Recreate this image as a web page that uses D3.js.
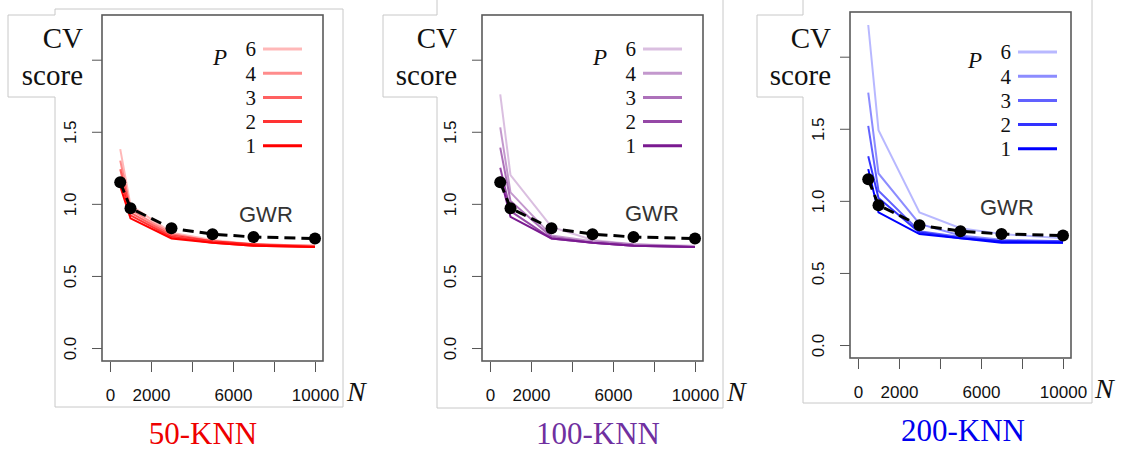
<!DOCTYPE html>
<html>
<head>
<meta charset="utf-8">
<script src="https://cdn.jsdelivr.net/npm/d3@7"></script>
<style>
  html, body { margin: 0; padding: 0; background: #fff; }
  svg { display: block; }
  .serif { font-family: "Liberation Serif", "DejaVu Serif", serif; }
  .sans { font-family: "Liberation Sans", "DejaVu Sans", sans-serif; }
</style>
</head>
<body>
<svg id="chart" width="1123" height="450"></svg>
<script>
// sample sizes and the GWR reference curve (same in every panel)
const N_VALUES = [500, 1000, 3000, 5000, 7000, 10000];
const GWR_SCORE = [1.15, 0.97, 0.83, 0.79, 0.77, 0.76];

// P levels, in drawing order (lightest first)
const P_LEVELS = [6, 4, 3, 2, 1];

// CV score per P (rows follow P_LEVELS)
const KNN50 = [
  [1.38, 0.99, 0.80, 0.75, 0.72, 0.71],
  [1.30, 0.96, 0.79, 0.74, 0.72, 0.71],
  [1.24, 0.94, 0.78, 0.74, 0.72, 0.70],
  [1.18, 0.92, 0.77, 0.73, 0.71, 0.70],
  [1.12, 0.90, 0.76, 0.73, 0.71, 0.70]
];
const KNN100 = [
  [1.76, 1.20, 0.84, 0.75, 0.72, 0.71],
  [1.53, 1.08, 0.78, 0.74, 0.72, 0.70],
  [1.39, 1.02, 0.77, 0.73, 0.71, 0.70],
  [1.25, 0.95, 0.76, 0.73, 0.71, 0.70],
  [1.19, 0.91, 0.76, 0.73, 0.71, 0.70]
];
const KNN200 = [
  [2.22, 1.49, 0.92, 0.81, 0.77, 0.74],
  [1.75, 1.19, 0.84, 0.76, 0.73, 0.72],
  [1.52, 1.07, 0.79, 0.75, 0.72, 0.72],
  [1.31, 1.02, 0.78, 0.74, 0.72, 0.71],
  [1.22, 0.92, 0.77, 0.74, 0.71, 0.71]
];

const X_TICKS = [0, 2000, 4000, 6000, 8000, 10000];
const X_TICK_LABELS = ["0", "2000", "", "6000", "", "10000"];
const Y_TICKS = [0, 0.5, 1.0, 1.5, 2.0];
const Y_TICK_LABELS = ["0.0", "0.5", "1.0", "1.5", "2.0"];

const TITLES = ["50-KNN", "100-KNN", "200-KNN"];

// layout of the three pasted panels
const panels = [
  { title: TITLES[0], series: KNN50, line: "#ff0000", titleColor: "#ee0000",
    dx: 0, dy: 0, legDx: 0, legDy: 0, gwrX: 239, gwrY: 222,
    box: [8, 88], cvX: 83, titleX: 203,
    frame: "M55,407 V97 H8 V15 H55 V9 H343 V407 Z" },
  { title: TITLES[1], series: KNN100, line: "#7a1a90", titleColor: "#7030a0",
    dx: 380, dy: 0, legDx: 0, legDy: 0, gwrX: 245, gwrY: 221,
    box: [383, 463], cvX: 457, titleX: 598,
    frame: "M437,0 V15 H383 V97 H437 V408 H723 V0" },
  { title: TITLES[2], series: KNN200, line: "#0000ff", titleColor: "#0000ee",
    dx: 748, dy: -3, legDx: 7, legDy: 6, gwrX: 232, gwrY: 218,
    box: [757, 836], cvX: 831, titleX: 963,
    frame: "M803,0 V15 H757 V97 H803 V403 H1092 V0" }
];

const svg = d3.select("#chart");
svg.append("rect").attr("width", 1123).attr("height", 450).attr("fill", "#fff");

// plot box inside one panel (panel-relative coords)
const BOX = { left: 102, right: 323, top: 15, bottom: 361 };

const x = d3.scaleLinear().domain([-390, 10390]).range([BOX.left, BOX.right]);
const y = d3.scaleLinear().domain([-0.09, 2.31]).range([BOX.bottom, BOX.top]);

const opacity = d3.scaleOrdinal().domain(P_LEVELS).range([0.28, 0.45, 0.62, 0.8, 1]);

const line = d3.line()
  .x((d) => x(d.n))
  .y((d) => y(d.v));

panels.forEach((p) => {
  const g = svg.append("g").attr("transform", `translate(${p.dx},${p.dy})`);

  // y axis, R style with rotated labels
  const ya = g.append("g")
    .attr("transform", `translate(${BOX.left},0)`)
    .call(d3.axisLeft(y).tickValues(Y_TICKS).tickSize(10).tickSizeOuter(0)
      .tickFormat((d, i) => Y_TICK_LABELS[i]));
  ya.attr("font-family", null).attr("font-size", null);
  ya.select(".domain").remove();
  ya.selectAll("line").attr("stroke", "#555");
  ya.selectAll("text")
    .attr("class", "sans")
    .attr("x", null)
    .attr("dy", "0.36em")
    .attr("text-anchor", "middle")
    .attr("transform", "translate(-32,0) rotate(-90)")
    .style("font-size", "17px")
    .attr("fill", "#111");

  // x axis
  const xa = g.append("g")
    .attr("transform", `translate(0,${BOX.bottom + 1})`)
    .call(d3.axisBottom(x).tickValues(X_TICKS).tickSize(10).tickSizeOuter(0)
      .tickFormat((d, i) => X_TICK_LABELS[i]));
  xa.attr("font-family", null).attr("font-size", null);
  xa.select(".domain").remove();
  xa.selectAll("line").attr("stroke", "#555");
  xa.selectAll("text")
    .attr("class", "sans")
    .attr("y", 33)
    .attr("dy", "0.36em")
    .style("font-size", "17px")
    .attr("fill", "#111");

  // plot box
  g.append("rect")
    .attr("x", BOX.left).attr("y", BOX.top)
    .attr("width", BOX.right - BOX.left).attr("height", BOX.bottom - BOX.top)
    .attr("fill", "none").attr("stroke", "#5a5a5a").attr("stroke-width", 1.6);

  // KNN curves, lightest first
  p.series.forEach((vals, i) => {
    const pts = N_VALUES.map((n, j) => ({ n, v: vals[j] }));
    g.append("path")
      .datum(pts)
      .attr("d", line)
      .attr("fill", "none")
      .attr("stroke", p.line)
      .attr("stroke-opacity", opacity(P_LEVELS[i]))
      .attr("stroke-width", 2);
  });

  // GWR dashed line + dots
  const gwr = N_VALUES.map((n, j) => ({ n, v: GWR_SCORE[j] }));
  g.append("path")
    .datum(gwr)
    .attr("d", line)
    .attr("fill", "none")
    .attr("stroke", "#000")
    .attr("stroke-width", 3)
    .attr("stroke-dasharray", "11 6");
  g.selectAll(".dot")
    .data(gwr)
    .join("circle")
    .attr("class", "dot")
    .attr("cx", (d) => x(d.n))
    .attr("cy", (d) => y(d.v))
    .attr("r", 6)
    .attr("fill", "#000");

  g.append("text")
    .attr("class", "sans")
    .attr("x", p.gwrX).attr("y", p.gwrY)
    .style("font-size", "22px")
    .attr("fill", "#333")
    .text("GWR");

  // legend
  const leg = g.append("g").attr("transform", `translate(${p.legDx},${p.legDy})`);
  leg.append("text")
    .attr("class", "serif")
    .attr("x", 213).attr("y", 65)
    .style("font-size", "23px").style("font-style", "italic")
    .attr("fill", "#111")
    .text("P");
  P_LEVELS.forEach((lev, i) => {
    const ly = 49 + i * 24.2;
    leg.append("text")
      .attr("class", "serif")
      .attr("x", 256).attr("y", ly).attr("dy", "0.35em")
      .attr("text-anchor", "end")
      .style("font-size", "21px")
      .attr("fill", "#111")
      .text(lev);
    leg.append("line")
      .attr("x1", 263).attr("x2", 302)
      .attr("y1", ly).attr("y2", ly)
      .attr("stroke", p.line)
      .attr("stroke-opacity", opacity(lev))
      .attr("stroke-width", 3);
  });

  // N label
  g.append("text")
    .attr("class", "serif")
    .attr("x", 347).attr("y", 401)
    .style("font-size", "28px").style("font-style", "italic")
    .attr("fill", "#111")
    .text("N");
});

// pasted frames and the "CV score" boxes on top
panels.forEach((p) => {
  svg.append("rect")
    .attr("x", p.box[0]).attr("y", 15)
    .attr("width", p.box[1] - p.box[0]).attr("height", 82)
    .attr("fill", "#fff");
  svg.append("path")
    .attr("d", p.frame)
    .attr("fill", "none")
    .attr("stroke", "#c8c8c8")
    .attr("stroke-width", 1);
  svg.append("text")
    .attr("class", "serif")
    .attr("x", p.cvX).attr("y", 48)
    .attr("text-anchor", "end")
    .style("font-size", "29px")
    .attr("fill", "#111")
    .text("CV");
  svg.append("text")
    .attr("class", "serif")
    .attr("x", p.cvX).attr("y", 85)
    .attr("text-anchor", "end")
    .style("font-size", "29px")
    .attr("fill", "#111")
    .text("score");
  svg.append("text")
    .attr("class", "serif")
    .attr("x", p.titleX).attr("y", 444 + p.dy)
    .attr("text-anchor", "middle")
    .style("font-size", "31px")
    .attr("fill", p.titleColor)
    .text(p.title);
});
</script>
</body>
</html>
